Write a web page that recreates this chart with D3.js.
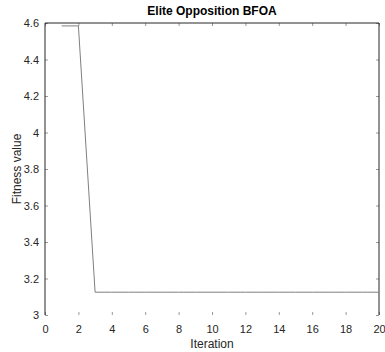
<!DOCTYPE html>
<html><head><meta charset="utf-8">
<script src="https://cdn.jsdelivr.net/npm/d3@7"></script>
<style>body{margin:0;background:#fff}svg{display:block}</style>
</head><body>
<script>
const iterations = [1,2,3,4,5,6,7,8,9,10,11,12,13,14,15,16,17,18,19,20];
const fitness = [4.584,4.584,3.125,3.125,3.125,3.125,3.125,3.125,3.125,3.125,3.125,3.125,3.125,3.125,3.125,3.125,3.125,3.125,3.125,3.125];
const xTicks = [0,2,4,6,8,10,12,14,16,18,20];
const yTicks = [3,3.2,3.4,3.6,3.8,4,4.2,4.4,4.6];
const title = "Elite Opposition BFOA";
const xLabel = "Iteration";
const yLabel = "Fitness value";

const W=385,H=352, L=45, R=379, T=23, B=315;
const svg=d3.select("body").append("svg").attr("width",W).attr("height",H);
const x=d3.scaleLinear().domain([0,20]).range([L,R]);
const y=d3.scaleLinear().domain([3,4.6]).range([B,T]);
const font="Liberation Sans, Arial, sans-serif";

const ga=svg.append("g").attr("transform",`translate(${L},0)`)
  .call(d3.axisLeft(y).tickValues(yTicks).tickSize(-3).tickPadding(6).tickFormat(d3.format("~g")));
const gr=svg.append("g").attr("transform",`translate(${R},0)`)
  .call(d3.axisRight(y).tickValues(yTicks).tickSize(-3).tickFormat(""));
const gt=svg.append("g").attr("transform",`translate(0,${T})`)
  .call(d3.axisTop(x).tickValues(xTicks).tickSize(-3).tickFormat(""));
const gb=svg.append("g").attr("transform",`translate(0,${B})`)
  .call(d3.axisBottom(x).tickValues(xTicks).tickSize(-3).tickPadding(10));
[ga,gr,gt,gb].forEach(g=>{
  g.selectAll(".tick line").attr("stroke","#999");
  g.selectAll("text").attr("font-family",font).attr("font-size",11).attr("fill","#262626");
});
svg.selectAll(".domain").remove();
svg.append("line").attr("x1",L).attr("x2",L).attr("y1",T).attr("y2",B).attr("stroke","#262626");
svg.append("line").attr("x1",R).attr("x2",R).attr("y1",T).attr("y2",B).attr("stroke","#262626");
svg.append("line").attr("x1",L).attr("x2",R).attr("y1",T).attr("y2",T).attr("stroke","#262626");

const line=d3.line().x((d,i)=>x(iterations[i])).y(d=>y(d));
svg.append("path").datum(fitness).attr("d",line).attr("fill","none").attr("stroke","#7f7f7f").attr("stroke-width",1);

svg.append("text").attr("x",212).attr("y",15).attr("text-anchor","middle")
  .attr("font-family",font).attr("font-size",12).attr("font-weight","bold").attr("fill","#000").text(title);
svg.append("text").attr("x",212).attr("y",348).attr("text-anchor","middle")
  .attr("font-family",font).attr("font-size",12).attr("fill","#262626").text(xLabel);
svg.append("text").attr("transform","translate(21,169) rotate(-90)").attr("text-anchor","middle")
  .attr("font-family",font).attr("font-size",12).attr("fill","#262626").text(yLabel);
</script>
</body></html>
